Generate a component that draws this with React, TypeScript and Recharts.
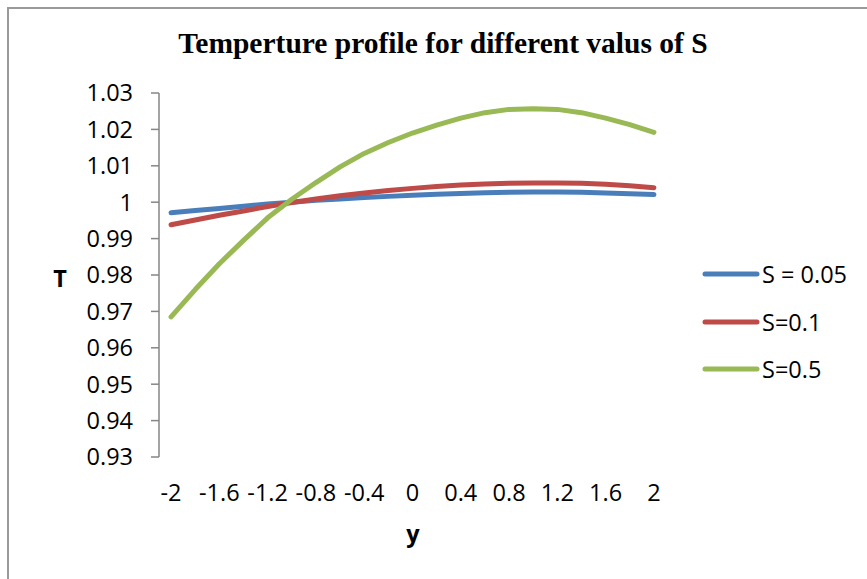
import React from 'react';
import { LineChart, Line, XAxis, YAxis, Legend } from 'recharts';

const yValues = [-2, -1.8, -1.6, -1.4, -1.2, -1, -0.8, -0.6, -0.4, -0.2, 0, 0.2, 0.4, 0.6, 0.8, 1, 1.2, 1.4, 1.6, 1.8, 2];
const s005 = [0.9971, 0.9977, 0.9983, 0.9989, 0.9995, 1.0, 1.0005, 1.0009, 1.0013, 1.0016, 1.0019, 1.0022, 1.0024, 1.0026, 1.0027, 1.0028, 1.0028, 1.0027, 1.0025, 1.0023, 1.0021];
const s01 = [0.9938, 0.9951, 0.9964, 0.9976, 0.9988, 0.9999, 1.0009, 1.0018, 1.0025, 1.0032, 1.0038, 1.0043, 1.0047, 1.005, 1.0052, 1.0053, 1.0053, 1.0052, 1.0049, 1.0045, 1.004];
const s05 = [0.9685, 0.976, 0.9831, 0.9895, 0.9957, 1.0008, 1.0054, 1.0097, 1.0134, 1.0164, 1.019, 1.0212, 1.0231, 1.0246, 1.0255, 1.0257, 1.0255, 1.0246, 1.0231, 1.0213, 1.0192];

const seriesNames = ['S = 0.05', 'S=0.1', 'S=0.5'];
const seriesColors = ['#4A7EBB', '#BE4B48', '#98B954'];

const yTicks = [0.93, 0.94, 0.95, 0.96, 0.97, 0.98, 0.99, 1.0, 1.01, 1.02, 1.03];
const xLabelTicks = [-2, -1.6, -1.2, -0.8, -0.4, 0, 0.4, 0.8, 1.2, 1.6, 2];
const xBoundaryTicks = [-2.1, -1.9, -1.7, -1.5, -1.3, -1.1, -0.9, -0.7, -0.5, -0.3, -0.1, 0.1, 0.3, 0.5, 0.7, 0.9, 1.1, 1.3, 1.5, 1.7, 1.9, 2.1];
const xDomain = [-2.1, 2.1];

const data = yValues.map((y, i) => ({ y, a: s005[i], b: s01[i], c: s05[i] }));
const keys = ['a', 'b', 'c'];

const FONT = '"Open Sans", Lato, sans-serif';
const FS = 23.5;
const AXIS = '#868686';

const fmt = (v: number) => String(Number(v.toFixed(2)));

const LegendContent = () => (
  <div style={{ fontFamily: FONT, fontSize: FS, color: '#000' }}>
    {seriesNames.map((n, i) => (
      <div key={n} style={{ display: 'flex', alignItems: 'center', height: 47.7 }}>
        <svg width={58} height={10} style={{ display: 'block' }}>
          <line x1={3} y1={5} x2={55} y2={5} stroke={seriesColors[i]} strokeWidth={5} strokeLinecap="round" />
        </svg>
        <span style={{ marginLeft: 2, lineHeight: '26px' }}>{n}</span>
      </div>
    ))}
  </div>
);

export default function App() {
  return (
    <div style={{ position: 'absolute', left: 0, top: 0, width: 867, height: 579, overflow: 'hidden', background: '#fff' }}>
      <div style={{ position: 'absolute', left: 7, top: 7, width: 900, height: 600, borderLeft: '2px solid #9a9a9a', borderTop: '2px solid #9a9a9a' }} />
      <div style={{ position: 'absolute', left: 0, top: 24, width: 886, textAlign: 'center', fontFamily: '"Liberation Serif", "Times New Roman", serif', fontWeight: 'bold', fontSize: 29.5, lineHeight: '38px', color: '#000' }}>
        Temperture profile for different valus of S
      </div>
      <div style={{ position: 'absolute', left: 50, top: 264, width: 20, textAlign: 'center', fontFamily: FONT, fontWeight: 'bold', fontSize: FS, lineHeight: '28px' }}>T</div>
      <div style={{ position: 'absolute', left: 392, top: 519, width: 42, textAlign: 'center', fontFamily: FONT, fontWeight: 'bold', fontSize: FS, lineHeight: '28px' }}>y</div>
      <div style={{ position: 'absolute', left: 0, top: 0 }}>
        <LineChart width={867} height={579} data={data} margin={{ top: 93, right: 201, bottom: 62, left: 0 }}>
          <XAxis
            xAxisId="ticks"
            dataKey="y"
            type="number"
            domain={xDomain}
            ticks={xBoundaryTicks}
            interval={0}
            height={0}
            axisLine={{ stroke: AXIS, strokeWidth: 1.5 }}
            tickLine={{ stroke: AXIS, strokeWidth: 1.5 }}
            tickSize={8}
            tickFormatter={() => ''}
          />
          <XAxis
            xAxisId="labels"
            dataKey="y"
            type="number"
            domain={xDomain}
            ticks={xLabelTicks}
            interval={0}
            height={60}
            axisLine={false}
            tickLine={false}
            tickSize={0}
            tickMargin={27}
            tickFormatter={fmt}
            tick={{ fill: '#000', fontFamily: FONT, fontSize: FS }}
          />
          <YAxis
            type="number"
            domain={[0.93, 1.03]}
            ticks={yTicks}
            interval={0}
            width={159}
            axisLine={{ stroke: AXIS, strokeWidth: 1.5 }}
            tickLine={{ stroke: AXIS, strokeWidth: 1.5 }}
            tickSize={8}
            tickMargin={18}
            tickFormatter={fmt}
            tick={{ fill: '#000', fontFamily: FONT, fontSize: FS }}
          />
          <Legend
            layout="vertical"
            align="center"
            verticalAlign="middle"
            content={<LegendContent />}
            wrapperStyle={{ left: 702, top: 250, width: 165 }}
          />
          {keys.map((k, i) => (
            <Line
              key={k}
              xAxisId="ticks"
              dataKey={k}
              name={seriesNames[i]}
              type="linear"
              stroke={seriesColors[i]}
              strokeWidth={5}
              strokeLinecap="round"
              strokeLinejoin="round"
              dot={false}
              activeDot={false}
              isAnimationActive={false}
            />
          ))}
        </LineChart>
      </div>
    </div>
  );
}
